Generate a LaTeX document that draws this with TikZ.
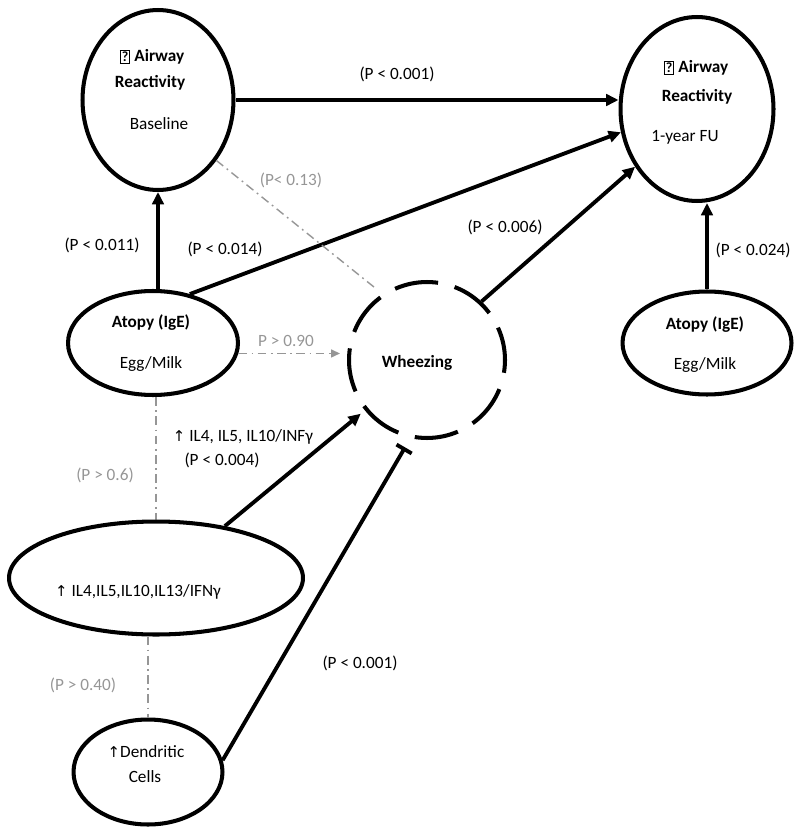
\documentclass[tikz,border=0pt]{standalone}
\usepackage{fontspec}
\setmainfont{Carlito}
\newfontfamily\arrowfont{DejaVu Sans}
\usetikzlibrary{arrows.meta,shapes.geometric}
\definecolor{pgray}{RGB}{150,150,150}
\newcommand{\uparr}{{\arrowfont\fontsize{8.5}{10}\selectfont ↑}}
\newcommand{\qglyph}{{\setlength{\fboxsep}{0.6pt}\setlength{\fboxrule}{0.6pt}\fbox{\fontsize{8}{8}\selectfont ?}}}
\tikzset{
  oval/.style={ellipse, draw, line width=2.3pt, inner sep=0pt},
  lbl/.style={font=\fontsize{9.8}{12}\selectfont, inner sep=0pt},
  hd/.style={font=\fontsize{9.8}{12}\selectfont\bfseries, inner sep=0pt},
  glbl/.style={lbl, text=pgray},
  link/.style={line width=2.2pt, -{Triangle[length=7pt,width=6.5pt]}},
  weak/.style={pgray, line width=0.8pt, dash pattern=on 5pt off 2.5pt on 1pt off 2.5pt},
  every picture/.style={line join=round}
}

\begin{document}
\begin{tikzpicture}[x=0.02cm, y=-0.02cm]
  \useasboundingbox (0,0) rectangle (800,838);
  % ellipses
  \node[oval, minimum width=3.02cm, minimum height=3.6cm] (base) at (158,100) {};
  \node[oval, minimum width=3.06cm, minimum height=3.68cm] (fu) at (697,109) {};
  \node[oval, minimum width=3.4cm, minimum height=2.08cm] (atL) at (153,343) {};
  \node[oval, minimum width=3.38cm, minimum height=2.06cm] (atR) at (707,343) {};
  \node[circle, draw, line width=2.3pt, dash pattern=on 25pt off 9.7pt, dash phase=6pt,
        minimum size=3.12cm, inner sep=0pt] (wh) at (427,360) {};
  \node[oval, minimum width=5.88cm, minimum height=2.26cm] (il) at (156,578) {};
  \node[oval, minimum width=2.98cm, minimum height=2.1cm] (den) at (148,772) {};
  % texts in the ellipses
  \node[hd] (baseA) at (152,57) {\qglyph{} Airway};
  \node[hd] (baseR) at (150,83) {Reactivity};
  \node[lbl] (baseB) at (159,124) {Baseline};
  \node[hd] (fuA) at (696,68) {\qglyph{} Airway};
  \node[hd] (fuR) at (697,97) {Reactivity};
  \node[lbl] (fuB) at (685,137) {1-year FU};
  \node[hd] (atLA) at (151,323) {Atopy (IgE)};
  \node[lbl] (atLB) at (151,364) {Egg/Milk};
  \node[hd] (atRA) at (705,325) {Atopy (IgE)};
  \node[lbl] (atRB) at (705,365) {Egg/Milk};
  \node[hd] (whT) at (417,363) {Wheezing};
  \node[lbl] (ilT) at (138,592) {\uparr\ IL4,IL5,IL10,IL13/IFNγ};
  \node[lbl] (denA) at (146,752) {\uparr Dendritic};
  \node[lbl] (denB) at (145,777) {Cells};
  % strong links
  \draw[link] (base.east) -- (base.east -| fu.west);
  \draw[link] (atL.north -| base.south) -- (base.south);
  \draw[link] (atL.53) -- (fu.197);
  \draw[link] (wh.47) -- (fu.223);
  \draw[link] (atR.north) -- (atR.north |- fu.south);
  \draw[link, shorten >=3pt] (il.37) -- (wh.219);
  \draw[line width=2.2pt, -{Bar[width=10pt,line width=2.2pt]}, shorten >=6pt] (den.9) -- (wh.258);
  % weak links
  \draw[weak, shorten >=4pt] (base.-46) -- (wh.124);
  \draw[weak, -{Triangle[length=5pt,width=4.5pt]}, shorten >=4pt] (atL.-7.5) -- (atL.-7.5 -| wh.west);
  \draw[weak] (il.north |- atL.south) -- (il.north);
  \draw[weak] (il.south -| den.north) -- (den.north);
  % p values
  \node[lbl] (p1) at (397,74) {(P < 0.001)};
  \node[lbl] (p2) at (102,245) {(P < 0.011)};
  \node[lbl] (p3) at (225,249) {(P < 0.014)};
  \node[lbl] (p4) at (505,227) {(P < 0.006)};
  \node[lbl] (p5) at (753,250) {(P < 0.024)};
  \node[lbl] (p6a) at (243,437) {\uparr\ IL4, IL5, IL10/INFγ};
  \node[lbl] (p6b) at (222,460) {(P < 0.004)};
  \node[lbl] (p7) at (360,663) {(P < 0.001)};
  \node[glbl] (g1) at (291,180) {(P< 0.13)};
  \node[glbl] (g2) at (286,341) {P > 0.90};
  \node[glbl] (g3) at (105,475) {(P > 0.6)};
  \node[glbl] (g4) at (83,685) {(P > 0.40)};
\end{tikzpicture}
\end{document}
